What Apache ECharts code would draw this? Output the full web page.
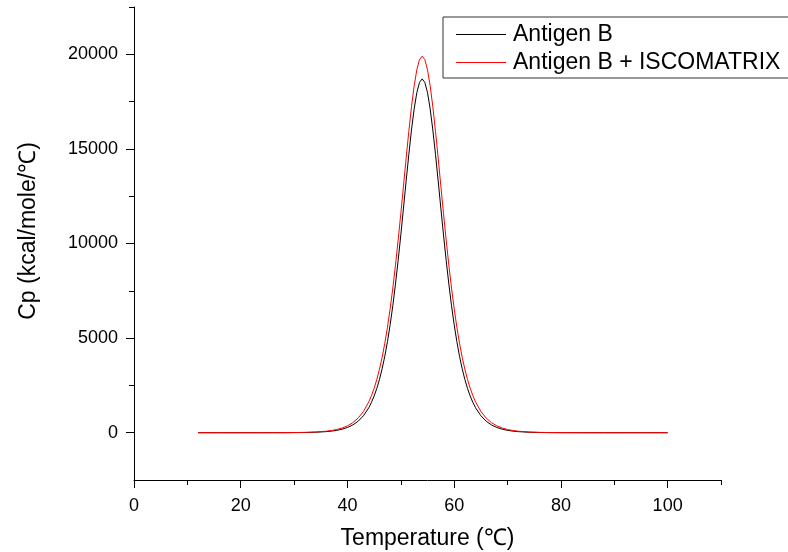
<!DOCTYPE html>
<html>
<head>
<meta charset="utf-8">
<script src="https://cdn.jsdelivr.net/npm/echarts@6/dist/echarts.min.js"></script>
<style>html,body{margin:0;padding:0;background:#fff}#c{width:788px;height:552px}</style>
</head>
<body>
<div id="c"></div>
<script>
// ---- data ----
const temperature = [12,16,20,24,26,28,30,32,34,36,37,38,39,40,41,42,43,
  44,44.5,45,45.5,46,46.5,47,47.5,48,48.5,49,49.5,50,50.5,51,51.5,52,52.5,53,53.5,54,
  54.5,55,55.5,56,56.5,57,57.5,58,58.5,59,59.5,60,60.5,61,61.5,62,62.5,63,63.5,64,
  65,66,67,68,69,70,71,72,74,76,78,80,84,88,92,96,100];
const antigenB = [0,0,0,0,1,1,5,11,25,56,83,124,185,275,408,606,896,
  1321,1601,1937,2338,2815,3379,4042,4814,5704,6717,7854,9105,10454,11870,13307,14707,16000,17113,17971,18514,18700,
  18514,17971,17113,16000,14707,13307,11870,10454,9105,7854,6717,5704,4814,4042,3379,2815,2338,1937,1601,1321,
  896,606,408,275,185,124,83,56,25,11,5,2,0,0,0,0,0];
const antigenBIscomatrix = [0,0,0,1,2,4,8,17,36,78,115,169,247,362,529,773,1124,
  1630,1958,2348,2810,3353,3989,4729,5580,6552,7644,8856,10176,11582,13043,14510,15926,17224,18332,19182,19717,19900,
  19717,19182,18332,17224,15926,14510,13043,11582,10176,8856,7644,6552,5580,4729,3989,3353,2810,2348,1958,1630,
  1124,773,529,362,247,169,115,78,36,17,8,4,1,0,0,0,0];
const seriesNames = ['Antigen B', 'Antigen B + ISCOMATRIX'];
const xMajorTicks = [0,20,40,60,80,100];
const xMinorTicks = [10,30,50,70,90,110];
const yMajorTicks = [0,5000,10000,15000,20000];
const yMinorTicks = [2500,7500,12500,17500,22500];
const xRange = [0, 110];
const yRange = [-2500, 22500];
const xTitle = 'Temperature (\u2103)';
const yTitle = 'Cp (kcal/mole/\u2103)';

const FONT = '"Liberation Sans", Arial, Helvetica, sans-serif';
const chart = echarts.init(document.getElementById('c'));
const pair = (xs, ys) => xs.map((x, i) => [x, ys[i]]);
const plain = v => String(v);
const gridRect = { left: 134, right: 67, top: 7, bottom: 72, containLabel: false };
// major ticks are drawn on a twin axis whose domain is shifted by one unit (same pixel mapping)
const SHIFT = 1;
const shift = arr => arr.map(v => v + SHIFT);

function tickAxis(grid, pos, range, values, len) {
  return { type: 'value', gridIndex: grid, min: range[0], max: range[1], position: pos, offset: 0, z: 20,
    axisLine: { show: false, onZero: false },
    axisTick: { show: true, length: len, customValues: values, lineStyle: { color: '#000', width: 1 } },
    axisLabel: { show: false }, splitLine: { show: false } };
}
function stripAxis(grid, pos, range, values) {
  return { type: 'value', gridIndex: grid, min: range[0], max: range[1], position: pos, z: 20,
    axisLine: { show: false, onZero: false },
    axisTick: { show: false, customValues: values },
    axisLabel: { show: false },
    splitLine: { show: true, showMinLine: true, showMaxLine: true, lineStyle: { color: '#000', width: 1, type: 'solid' } } };
}
const hidden = grid => ({ type: 'value', gridIndex: grid, show: false, min: 0, max: 1 });

chart.setOption({
  animation: false,
  backgroundColor: '#fff',
  grid: [
    Object.assign({}, gridRect),
    Object.assign({}, gridRect),
    { left: 134, right: 67, top: 480, bottom: 64, containLabel: false },
    { left: 126, right: 654, top: 7, bottom: 72, containLabel: false }
  ],
  legend: {
    orient: 'vertical', left: 443, top: 17,
    itemWidth: 50, itemHeight: 1, itemGap: 5, icon: 'rect',
    padding: [6, 30, 4, 13],
    borderColor: '#333', borderWidth: 1, borderRadius: 0,
    textStyle: { fontFamily: FONT, fontSize: 23, color: '#000', lineHeight: 22, padding: [0,0,0,2] },
    data: seriesNames
  },
  xAxis: [
    { type: 'value', gridIndex: 0, min: xRange[0], max: xRange[1], position: 'bottom', z: 1,
      axisLine: { show: true, onZero: false, lineStyle: { color: '#000', width: 1 } },
      axisTick: { show: false },
      axisLabel: { customValues: xMajorTicks, formatter: plain, fontFamily: FONT, fontSize: 18, color: '#000', margin: 17 },
      splitLine: { show: false } },
    tickAxis(1, 'bottom', shift(xRange), shift(xMajorTicks), 8),
    tickAxis(1, 'bottom', xRange, xMinorTicks, 5),
    stripAxis(2, 'bottom', shift(xRange), shift(xMajorTicks)),
    hidden(3)
  ],
  yAxis: [
    { type: 'value', gridIndex: 0, min: yRange[0], max: yRange[1], position: 'left', z: 1,
      axisLine: { show: true, onZero: false, lineStyle: { color: '#000', width: 1 } },
      axisTick: { show: false },
      axisLabel: { customValues: yMajorTicks, formatter: plain, fontFamily: FONT, fontSize: 18, color: '#000', margin: 16 },
      splitLine: { show: false } },
    tickAxis(1, 'left', shift(yRange), shift(yMajorTicks), 8),
    tickAxis(1, 'left', yRange, yMinorTicks, 5),
    hidden(2),
    stripAxis(3, 'left', shift(yRange), shift(yMajorTicks))
  ],
  series: [
    { name: seriesNames[0], type: 'line', xAxisIndex: 0, yAxisIndex: 0, data: pair(temperature, antigenB),
      showSymbol: false, symbol: 'none', smooth: false, color: '#000', lineStyle: { color: '#000', width: 1 } },
    { name: seriesNames[1], type: 'line', xAxisIndex: 0, yAxisIndex: 0, data: pair(temperature, antigenBIscomatrix),
      showSymbol: false, symbol: 'none', smooth: false, color: '#ff0000', lineStyle: { color: '#ff0000', width: 1 } }
  ],
  graphic: [
    { type: 'text', x: 427.5, y: 539, style: { text: xTitle, font: '23px ' + FONT, fill: '#000', align: 'center', verticalAlign: 'middle' } },
    { type: 'text', x: 29, y: 231, rotation: Math.PI / 2, style: { text: yTitle, font: '23px ' + FONT, fill: '#000', align: 'center', verticalAlign: 'middle' } }
  ]
});
</script>
</body>
</html>
